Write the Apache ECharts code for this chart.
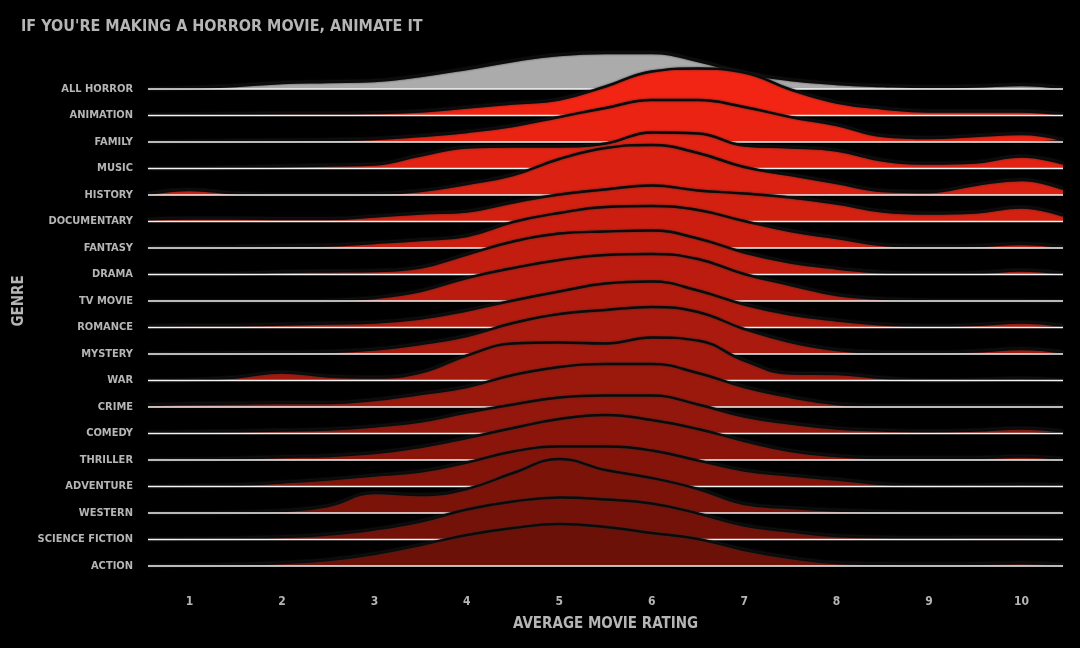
<!DOCTYPE html>
<html>
<head>
<meta charset="utf-8">
<script src="https://cdn.jsdelivr.net/npm/echarts@6/dist/echarts.min.js"></script>
<style>
html,body{margin:0;padding:0;background:#000;}
#chart{width:1080px;height:648px;}
</style>
</head>
<body>
<div id="chart"></div>
<script>
// Rating grid on which densities were read
const ratings = [0.55, 1, 1.5, 2, 2.5, 3, 3.5, 4, 4.5, 5, 5.5, 6, 6.5, 7, 7.5, 8, 8.5, 9, 9.5, 10, 10.45];

// Genres, top to bottom
const genres = ["All Horror", "Animation", "Family", "Music", "History", "Documentary", "Fantasy", "Drama",
  "TV Movie", "Romance", "Mystery", "War", "Crime", "Comedy", "Thriller", "Adventure", "Western",
  "Science Fiction", "Action"];

// Density heights (relative units) per genre, at each rating above
const allHorror     = [0, 1, 3, 6, 7, 8, 13, 20, 28, 34, 36, 36, 28, 16, 9, 5, 3, 2, 2.5, 4, 1];
const animation     = [0.5, 1, 1.5, 2, 2, 2.5, 4, 8, 12, 16, 29, 44, 47, 43, 26, 13, 7, 4, 4, 4, 1];
const family        = [0, 0.5, 1, 1.5, 2, 3, 6, 10, 16, 25, 34, 42, 42, 35, 25, 17, 6, 4, 6, 8, 2];
const music         = [0, 0, 1, 2, 3, 4, 13, 21, 22, 22, 25, 36, 35, 23, 21, 18, 8, 5, 6, 12, 5];
const history       = [1, 5, 1.5, 0.5, 0.5, 1, 4, 11, 20, 36, 47, 50, 42, 28, 20, 12, 4, 3, 10, 15, 6];
const documentary   = [2, 3, 3, 2.5, 2.5, 5, 8, 10, 19, 27, 32, 36, 31, 28, 24, 18, 10, 8, 9, 14, 6];
const fantasy       = [0.5, 0.5, 1, 2, 2.5, 5, 8, 12, 26, 35, 41, 42, 38, 27, 17, 10, 3, 1.5, 2, 4, 1];
const drama         = [0, 0, 0.5, 2.5, 3, 3.5, 7, 20, 33, 41, 43, 44, 36, 22, 12, 6, 2, 1, 1.5, 4, 1];
const tvMovie       = [0, 0, 0, 0, 0.3, 3, 10, 23, 33, 41, 46, 47, 42, 27, 16, 6, 2, 0.5, 0.3, 0.3, 0];
const romance       = [1, 2, 2, 3, 4, 5, 9, 17, 27, 36, 44, 46, 37, 23, 13, 7, 3, 1.5, 2.5, 5, 1.5];
const mystery       = [0, 0.5, 1, 1.5, 2, 4.5, 10, 18, 31, 40, 44, 47, 42, 25, 12, 4, 1.5, 1.5, 2.5, 5, 1.5];
const war           = [0, 0.5, 3, 8, 4, 3, 8, 25, 37, 38, 37, 43, 40, 20, 7, 6.5, 2.5, 0, 0.5, 2, 0];
const crime         = [2, 3, 3.5, 4, 4, 7, 13, 20, 32, 40, 43, 43, 34, 20, 10, 3, 1, 1, 1, 1, 0.5];
const comedy        = [1, 1.5, 2, 3, 4, 7, 12, 21, 29, 36, 38, 38, 29, 17, 10, 5, 3, 2, 3, 5, 2];
const thriller      = [0, 0.5, 1.5, 3, 4, 7, 13, 22, 32, 41, 45, 40, 31, 19, 9, 4, 2, 2, 2, 3.5, 1];
const adventure     = [0, 0.5, 1.5, 4, 7, 11, 15, 24, 35, 40, 40, 36, 26, 16, 11, 7, 2.5, 0.3, 1, 2, 1];
const western       = [0, 0, 0.5, 2, 7, 20, 18, 24, 40, 54, 43, 35, 24, 9, 5, 2.5, 1, 0.5, 0.3, 0.3, 0.3];
const scienceFiction= [0, 0.5, 1, 2.5, 5, 10, 18, 30, 38, 42, 40, 36, 26, 14, 8, 3.5, 2, 1.5, 2, 2, 0.7];
const action        = [0, 0.5, 1.5, 3, 6, 12, 21, 31, 38, 42, 39, 33, 27, 16, 8, 3, 2, 1.7, 2, 3, 0.7];

const densities = [allHorror, animation, family, music, history, documentary, fantasy, drama, tvMovie,
  romance, mystery, war, crime, comedy, thriller, adventure, western, scienceFiction, action];

const xTicks = [1, 2, 3, 4, 5, 6, 7, 8, 9, 10];

// ---- drawing ----
const X_MIN = 0.55, X_MAX = 10.45;
const HEIGHT_SCALE = 1 / 26.5;   // relative density unit -> row spacing
const nRows = genres.length;
const FONT = '"DejaVu Sans Condensed", "Liberation Sans Narrow", sans-serif';
const TXT = '#b5b5b5';

function lerp(a, b, t) { return Math.round(a + (b - a) * t); }
function rowColor(i) {
  if (i === 0) return '#ababab';
  const t = (i - 1) / (nRows - 2);
  const c0 = [242, 36, 20], c1 = [108, 17, 8];
  return 'rgb(' + lerp(c0[0], c1[0], t) + ',' + lerp(c0[1], c1[1], t) + ',' + lerp(c0[2], c1[2], t) + ')';
}

const series = [];
densities.forEach((d, i) => {
  const base = nRows - 1 - i;
  series.push({
    type: 'line',
    name: genres[i],
    data: ratings.map((r, k) => [r, base + d[k] * HEIGHT_SCALE]),
    smooth: 0.45,
    showSymbol: false,
    clip: false,
    z: 2 + i * 2,
    lineStyle: { color: '#0b0b0b', width: 2.4, shadowColor: 'rgba(45,45,45,0.9)', shadowBlur: 2 },
    areaStyle: { color: rowColor(i), opacity: 1, origin: base },
    silent: true,
    animation: false
  });
  series.push({
    type: 'line',
    data: [[X_MIN, base], [X_MAX, base]],
    showSymbol: false,
    clip: false,
    z: 3 + i * 2,
    lineStyle: { color: '#f4f4f4', width: 1.6 },
    silent: true,
    animation: false
  });
});

const chart = echarts.init(document.getElementById('chart'));
chart.setOption({
  backgroundColor: '#000000',
  animation: false,
  title: {
    text: "IF YOU'RE MAKING A HORROR MOVIE, ANIMATE IT",
    left: 16, top: 14,
    textStyle: { color: TXT, fontFamily: FONT, fontWeight: 'bold', fontSize: 16 }
  },
  grid: { left: 148, right: 17, top: 36, bottom: 82, outerBoundsMode: 'none', containLabel: false },
  xAxis: {
    type: 'value',
    min: X_MIN, max: X_MAX,
    name: 'AVERAGE MOVIE RATING',
    nameLocation: 'middle',
    nameGap: 51,
    nameTextStyle: { color: TXT, fontFamily: FONT, fontWeight: 'bold', fontSize: 15 },
    axisLine: { show: false },
    axisTick: { show: false },
    splitLine: { show: false },
    axisLabel: {
      customValues: xTicks,
      margin: 30,
      color: TXT, fontFamily: FONT, fontWeight: 'bold', fontSize: 12
    }
  },
  yAxis: {
    type: 'value',
    min: 0, max: 20, interval: 1,
    name: 'GENRE',
    nameLocation: 'middle',
    nameGap: 104,
    nameRotate: 90,
    nameTextStyle: { color: TXT, fontFamily: FONT, fontWeight: 'bold', fontSize: 15 },
    axisLine: { show: false },
    axisTick: { show: false },
    splitLine: { show: false },
    axisLabel: {
      margin: 15,
      color: TXT, fontFamily: FONT, fontWeight: 'bold', fontSize: 11,
      formatter: v => {
        const idx = nRows - 1 - v;
        return (idx >= 0 && idx < nRows) ? genres[idx].toUpperCase() : '';
      }
    }
  },
  series: series
});
</script>
</body>
</html>
